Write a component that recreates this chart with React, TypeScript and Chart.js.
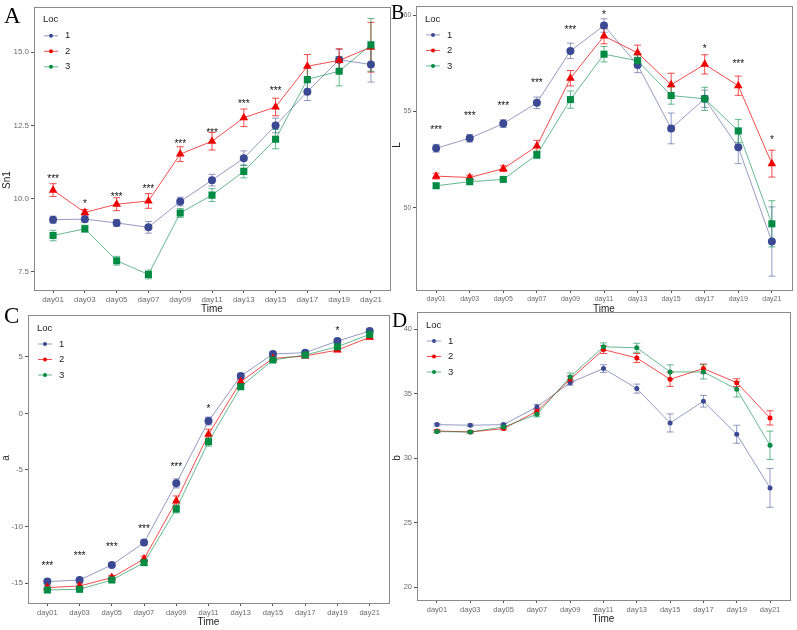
import React, { useEffect, useRef } from 'react';
import { Chart, registerables } from 'chart.js';
Chart.register(...registerables);

const W = 797;
const H = 630;

// ---------- data ----------
const categories = ['day01', 'day03', 'day05', 'day07', 'day09', 'day11', 'day13', 'day15', 'day17', 'day19', 'day21'];
const locs = ['1', '2', '3'];

// Panel A: Sn1
const sn1Loc1 = [9.28, 9.30, 9.17, 9.02, 9.90, 10.63, 11.38, 12.50, 13.65, 14.74, 14.58];
const sn1Loc1Se = [0.12, 0.1, 0.12, 0.2, 0.15, 0.2, 0.25, 0.25, 0.3, 0.35, 0.6];
const sn1Loc2 = [10.29, 9.53, 9.81, 9.92, 11.52, 11.96, 12.76, 13.13, 14.52, 14.72, 15.17];
const sn1Loc2Se = [0.22, 0.1, 0.22, 0.25, 0.25, 0.3, 0.3, 0.3, 0.4, 0.4, 0.85];
const sn1Loc3 = [8.74, 8.97, 7.88, 7.41, 9.51, 10.12, 10.93, 12.03, 14.07, 14.35, 15.25];
const sn1Loc3Se = [0.18, 0.12, 0.15, 0.15, 0.15, 0.22, 0.22, 0.33, 0.4, 0.5, 0.9];
const sn1Stars = ['***', '*', '***', '***', '***', '***', '***', '***', '', '', ''];
const sn1StarY = [10.76, 9.92, 10.15, 10.44, 11.97, 12.34, 13.34, 13.77, 0, 0, 0];
const sn1Ticks = [7.5, 10, 12.5, 15];

// Panel B: L
const lLoc1 = [53.10, 53.62, 54.38, 55.46, 58.16, 59.48, 57.43, 54.13, 55.67, 53.15, 48.25];
const lLoc1Se = [0.2, 0.2, 0.2, 0.3, 0.4, 0.35, 0.4, 0.8, 0.45, 0.85, 1.8];
const lLoc2 = [51.65, 51.58, 52.04, 53.21, 56.74, 58.93, 58.06, 56.40, 57.46, 56.35, 52.30];
const lLoc2Se = [0.15, 0.12, 0.15, 0.3, 0.4, 0.4, 0.4, 0.6, 0.5, 0.5, 0.7];
const lLoc3 = [51.15, 51.36, 51.48, 52.76, 55.63, 57.99, 57.65, 55.84, 55.67, 54.00, 49.17];
const lLoc3Se = [0.12, 0.1, 0.1, 0.2, 0.45, 0.4, 0.3, 0.45, 0.6, 0.6, 1.2];
const lStars = ['***', '***', '***', '***', '***', '*', '', '', '*', '***', '*'];
const lStarY = [54.18, 54.95, 55.43, 56.66, 59.40, 60.17, 0, 0, 58.40, 57.65, 53.70];
const lTicks = [50, 55, 60];

// Panel C: a
const aLoc1 = [-14.85, -14.71, -13.38, -11.41, -6.18, -0.68, 3.29, 5.24, 5.35, 6.38, 7.26];
const aLoc1Se = [0.2, 0.15, 0.15, 0.2, 0.4, 0.35, 0.2, 0.2, 0.15, 0.2, 0.15];
const aLoc2 = [-15.38, -15.24, -14.50, -12.85, -7.74, -1.85, 2.79, 4.85, 5.06, 5.59, 6.71];
const aLoc2Se = [0.2, 0.2, 0.2, 0.25, 0.45, 0.45, 0.2, 0.15, 0.15, 0.15, 0.15];
const aLoc3 = [-15.59, -15.53, -14.71, -13.18, -8.44, -2.50, 2.35, 4.71, 5.15, 5.88, 6.97];
const aLoc3Se = [0.2, 0.2, 0.15, 0.2, 0.35, 0.4, 0.2, 0.15, 0.15, 0.2, 0.15];
const aStars = ['***', '***', '***', '***', '***', '*', '', '', '', '*', ''];
const aStarY = [-13.24, -12.35, -11.56, -9.91, -4.47, 0.65, 0, 0, 0, 7.5, 0];
const aTicks = [-15, -10, -5, 0, 5];

// Panel D: b
const bLoc1 = [32.60, 32.55, 32.60, 33.97, 35.85, 36.94, 35.39, 32.73, 34.41, 31.85, 27.70];
const bLoc1Se = [0.1, 0.1, 0.1, 0.2, 0.2, 0.3, 0.35, 0.7, 0.45, 0.7, 1.5];
const bLoc2 = [32.11, 32.03, 32.29, 33.63, 36.11, 38.41, 37.76, 36.11, 36.94, 35.85, 33.12];
const bLoc2Se = [0.1, 0.08, 0.1, 0.2, 0.25, 0.3, 0.35, 0.55, 0.35, 0.3, 0.55];
const bLoc3 = [32.06, 32.03, 32.42, 33.40, 36.29, 38.63, 38.55, 36.68, 36.68, 35.34, 31.00];
const bLoc3Se = [0.1, 0.08, 0.1, 0.2, 0.3, 0.3, 0.35, 0.55, 0.55, 0.6, 1.1];
const bStars = ['', '', '', '', '', '', '', '', '', '', ''];
const bStarY = [0, 0, 0, 0, 0, 0, 0, 0, 0, 0, 0];
const bTicks = [20, 25, 30, 35, 40];

// ---------- styling ----------
const COLORS = ['#3B4992', '#EE0000', '#008B45'];
const LINE_COLORS = ['rgba(59,73,146,0.55)', 'rgba(238,0,0,0.7)', 'rgba(0,139,69,0.6)'];
const SANS = "'Liberation Sans', Arial, sans-serif";
const SERIF = "'Liberation Serif', 'Times New Roman', serif";

type Panel = {
  letter: string;
  letterPos: [number, number, number];
  yTitle: string;
  yTitlePos: [number, number];
  area: { l: number; t: number; r: number; b: number };
  yMin: number;
  yMax: number;
  yTicks: number[];
  yDecimals: number;
  series: number[][];
  se: number[][];
  stars: string[];
  starY: number[];
  big: boolean;
  xFont: number;
  yFont: number;
};

const panels: Panel[] = [
  {
    letter: 'A', letterPos: [4, 23, 23], yTitle: 'Sn1', yTitlePos: [7, 180],
    area: { l: 34, t: 2, r: 390, b: 290 }, yMin: 6.88, yMax: 16.55, yTicks: sn1Ticks, yDecimals: 1,
    series: [sn1Loc1, sn1Loc2, sn1Loc3], se: [sn1Loc1Se, sn1Loc2Se, sn1Loc3Se],
    stars: sn1Stars, starY: sn1StarY, big: true, xFont: 8, yFont: 8,
  },
  {
    letter: 'B', letterPos: [391, 19, 20], yTitle: 'L', yTitlePos: [397, 145],
    area: { l: 416, t: 2, r: 792, b: 290 }, yMin: 45.73, yMax: 60.5, yTicks: lTicks, yDecimals: 0,
    series: [lLoc1, lLoc2, lLoc3], se: [lLoc1Se, lLoc2Se, lLoc3Se],
    stars: lStars, starY: lStarY, big: true, xFont: 7, yFont: 6.5,
  },
  {
    letter: 'C', letterPos: [4, 323, 23], yTitle: 'a', yTitlePos: [6, 458],
    area: { l: 28, t: 315, r: 389, b: 603 }, yMin: -16.74, yMax: 8.68, yTicks: aTicks, yDecimals: 0,
    series: [aLoc1, aLoc2, aLoc3], se: [aLoc1Se, aLoc2Se, aLoc3Se],
    stars: aStars, starY: aStarY, big: true, xFont: 7.5, yFont: 8,
  },
  {
    letter: 'D', letterPos: [392, 327, 21], yTitle: 'b', yTitlePos: [397, 458],
    area: { l: 417, t: 312, r: 790, b: 600 }, yMin: 19.02, yMax: 41.32, yTicks: bTicks, yDecimals: 0,
    series: [bLoc1, bLoc2, bLoc3], se: [bLoc1Se, bLoc2Se, bLoc3Se],
    stars: bStars, starY: bStarY, big: false, xFont: 7.5, yFont: 7.5,
  },
];

const XH = 20;

function makeConfig(p: Panel): any {
  const styles = p.big ? ['circle', 'triangle', 'rect'] : ['circle', 'circle', 'circle'];
  const radii = p.big ? [4, 5, 5] : [2.5, 2.5, 2.5];
  const datasets = p.series.map((vals, si) => ({
    label: locs[si],
    data: vals.map((v, i) => ({ x: i, y: v })),
    borderColor: LINE_COLORS[si],
    borderWidth: 1,
    pointStyle: styles[si],
    pointRadius: radii[si],
    pointBackgroundColor: COLORS[si],
    pointBorderColor: COLORS[si],
    pointBorderWidth: 0,
    pointHoverRadius: radii[si],
    tension: 0,
    fill: false,
    order: 3 - si,
  }));

  const panelPlugin = {
    id: 'panelDecor' + p.letter,
    beforeDatasetsDraw(chart: any) {
      const ctx = chart.ctx;
      const xs = chart.scales.x;
      const ys = chart.scales.y;
      ctx.save();
      ctx.lineWidth = 1;
      p.series.forEach((vals, si) => {
        ctx.strokeStyle = LINE_COLORS[si];
        vals.forEach((v, i) => {
          const e = p.se[si][i];
          const x = xs.getPixelForValue(i);
          const y1 = ys.getPixelForValue(v + e);
          const y2 = ys.getPixelForValue(v - e);
          const cw = 3.5;
          ctx.beginPath();
          ctx.moveTo(x, y1);
          ctx.lineTo(x, y2);
          ctx.moveTo(x - cw, y1);
          ctx.lineTo(x + cw, y1);
          ctx.moveTo(x - cw, y2);
          ctx.lineTo(x + cw, y2);
          ctx.stroke();
        });
      });
      ctx.restore();
    },
    afterDraw(chart: any) {
      const ctx = chart.ctx;
      const xs = chart.scales.x;
      const ys = chart.scales.y;
      const a = chart.chartArea;
      ctx.save();
      // border
      ctx.strokeStyle = '#8a8a8a';
      ctx.lineWidth = 1;
      ctx.strokeRect(Math.round(a.left) + 0.5, Math.round(a.top) + 0.5, Math.round(a.right - a.left), Math.round(a.bottom - a.top));

      // significance stars
      ctx.fillStyle = '#111';
      ctx.font = `10px ${SANS}`;
      ctx.textAlign = 'center';
      ctx.textBaseline = 'alphabetic';
      p.stars.forEach((s, i) => {
        if (!s) return;
        ctx.fillText(s, xs.getPixelForValue(i), ys.getPixelForValue(p.starY[i]) + 6);
      });

      // legend
      const lx = a.left + 9;
      const ly = a.top + 13;
      ctx.textAlign = 'left';
      ctx.textBaseline = 'middle';
      ctx.fillStyle = '#222';
      ctx.font = `9.5px ${SANS}`;
      ctx.fillText('Loc', lx, ly);
      locs.forEach((name, si) => {
        const y = ly + 16 + si * 15.5;
        ctx.strokeStyle = LINE_COLORS[si];
        ctx.lineWidth = 1;
        ctx.beginPath();
        ctx.moveTo(lx + 1, y);
        ctx.lineTo(lx + 15, y);
        ctx.stroke();
        ctx.fillStyle = COLORS[si];
        ctx.beginPath();
        ctx.arc(lx + 8, y, 2, 0, Math.PI * 2);
        ctx.fill();
        ctx.fillStyle = '#222';
        ctx.font = `9.5px ${SANS}`;
        ctx.fillText(name, lx + 22, y);
      });

      // x title
      ctx.textAlign = 'center';
      ctx.textBaseline = 'middle';
      ctx.fillStyle = '#222';
      ctx.font = `10px ${SANS}`;
      ctx.fillText('Time', (a.left + a.right) / 2, a.bottom + 19.5);

      // y title
      ctx.save();
      ctx.translate(p.yTitlePos[0], p.yTitlePos[1]);
      ctx.rotate(-Math.PI / 2);
      ctx.fillText(p.yTitle, 0, 0);
      ctx.restore();

      // panel letter
      ctx.textAlign = 'left';
      ctx.textBaseline = 'alphabetic';
      ctx.fillStyle = '#000';
      ctx.font = `${p.letterPos[2]}px ${SERIF}`;
      ctx.fillText(p.letter, p.letterPos[0], p.letterPos[1]);
      ctx.restore();
    },
  };

  return {
    type: 'line',
    data: { datasets },
    plugins: [panelPlugin],
    options: {
      animation: false,
      responsive: false,
      maintainAspectRatio: false,
      devicePixelRatio: 1,
      events: [],
      layout: {
        padding: { left: 0, top: p.area.t, right: W - p.area.r, bottom: H - p.area.b - XH },
      },
      plugins: { legend: { display: false }, tooltip: { enabled: false }, title: { display: false } },
      scales: {
        x: {
          type: 'linear',
          min: -0.6,
          max: 10.6,
          afterBuildTicks: (s: any) => { s.ticks = categories.map((_, i) => ({ value: i })); },
          afterFit: (s: any) => { s.height = XH; },
          ticks: {
            autoSkip: false,
            maxRotation: 0,
            minRotation: 0,
            padding: 2,
            color: '#6a6a6a',
            font: { size: p.xFont, family: SANS },
            callback: (v: any) => categories[Math.round(Number(v))] ?? '',
          },
          grid: { drawOnChartArea: false, drawTicks: true, tickLength: 3, color: '#555' },
          border: { display: false },
        },
        y: {
          type: 'linear',
          min: p.yMin,
          max: p.yMax,
          afterBuildTicks: (s: any) => { s.ticks = p.yTicks.map((v) => ({ value: v })); },
          afterFit: (s: any) => { s.width = p.area.l; },
          ticks: {
            padding: 2,
            color: '#6a6a6a',
            font: { size: p.yFont, family: SANS },
            callback: (v: any) => Number(v).toFixed(p.yDecimals),
          },
          grid: { drawOnChartArea: false, drawTicks: true, tickLength: 3, color: '#555' },
          border: { display: false },
        },
      },
    },
  };
}

function PanelChart({ p }: { p: Panel }) {
  const ref = useRef<HTMLCanvasElement>(null);
  useEffect(() => {
    if (!ref.current) return;
    const chart = new Chart(ref.current, makeConfig(p));
    return () => chart.destroy();
  }, [p]);
  return (
    <canvas
      ref={ref}
      width={W}
      height={H}
      style={{ position: 'absolute', left: 0, top: 0, width: W, height: H }}
    />
  );
}

export default function App() {
  return (
    <div style={{ position: 'absolute', left: 0, top: 0, width: W, height: H, background: '#fff', overflow: 'hidden' }}>
      {panels.map((p) => (
        <PanelChart key={p.letter} p={p} />
      ))}
    </div>
  );
}
